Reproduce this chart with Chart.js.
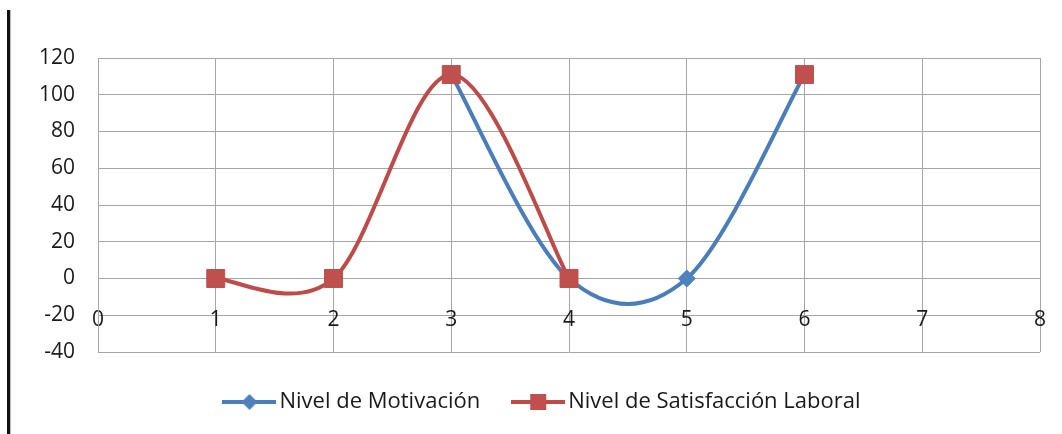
<!DOCTYPE html>
<html>
<head>
<meta charset="utf-8">
<script src="https://cdn.jsdelivr.net/npm/chart.js@4/dist/chart.umd.min.js"></script>
<style>
  html, body { margin: 0; padding: 0; background: #fff; }
  #wrap { position: relative; width: 1062px; height: 434px; }
  #edge { position: absolute; left: 7px; top: 10px; width: 3px; height: 424px; background: #111; box-shadow: 1px 0 0 #bbb; }
</style>
</head>
<body>
<div id="wrap">
  <canvas id="chart"></canvas>
  <div id="edge"></div>
</div>
<script>
// Puntos del eje X y valores de cada serie (null = sin dato)
const xValues = [1, 2, 3, 4, 5, 6];
const motivacion = [null, null, 111, 0, 0, 111];
const satisfaccion = [0, 0, 111, 0, null, 111];
const seriesNames = ['Nivel de Motivación', 'Nivel de Satisfacción Laboral'];
const yTicks = { min: -40, max: 120, step: 20 };
const xTicks = { min: 0, max: 8, step: 1 };

const BLUE_LINE = '#4a7ebb', BLUE_MARK = '#4f81bd';
const RED_LINE = '#be4b48', RED_MARK = '#c0504d';
const GRID = '#a6a6a6';
const FONT = { family: '"Open Sans", sans-serif', size: 21 };
const LEGEND_FONT = { family: '"Open Sans", sans-serif', size: 22 };

function toPoints(values) {
  return xValues.map((x, i) => ({ x, y: values[i] }));
}

// Legend sample: a short line with the series marker in the middle
function legendSample(lineColor, markColor, shape) {
  const c = document.createElement('canvas');
  c.width = 54; c.height = 22;
  const g = c.getContext('2d');
  g.strokeStyle = lineColor; g.lineWidth = 4;
  g.beginPath(); g.moveTo(0, 11); g.lineTo(54, 11); g.stroke();
  g.fillStyle = markColor;
  if (shape === 'diamond') {
    g.beginPath(); g.moveTo(27 - 8, 11); g.lineTo(27, 3); g.lineTo(27 + 8, 11); g.lineTo(27, 19); g.closePath(); g.fill();
  } else {
    g.fillRect(27 - 8, 3, 16, 16);
  }
  return c;
}
const samples = [legendSample(BLUE_LINE, BLUE_MARK, 'diamond'), legendSample(RED_LINE, RED_MARK, 'square')];

// Smoothed line in the style of a spreadsheet "smoothed line":
// Catmull-Rom tangents, control points at 1/6 of the neighbour span.
const smoothLine = {
  id: 'smoothLine',
  afterLayout(chart) {
    // let the value labels use the margin left of the axis box
    chart.scales.y.left = 0;
  },
  beforeDatasetsDraw(chart) {
    chart.getSortedVisibleDatasetMetas().forEach(meta => {
      const pts = meta.data;
      for (let i = 0; i < pts.length; i++) {
        const p = pts[i];
        if (p.skip) continue;
        const prev = (i > 0 && !pts[i - 1].skip) ? pts[i - 1] : p;
        const next = (i < pts.length - 1 && !pts[i + 1].skip) ? pts[i + 1] : p;
        const dx = (next.x - prev.x) / 6, dy = (next.y - prev.y) / 6;
        p.cp1x = p.x - dx; p.cp1y = p.y - dy;
        p.cp2x = p.x + dx; p.cp2y = p.y + dy;
      }
      meta.dataset._pointsUpdated = true;
      meta.dataset._path = undefined;
    });
  }
};

new Chart(document.getElementById('chart'), {
  type: 'line',
  data: {
    datasets: [
      {
        label: seriesNames[0],
        data: toPoints(motivacion),
        borderColor: BLUE_LINE, borderWidth: 4,
        pointStyle: 'rectRot', pointRadius: 8.5,
        pointBackgroundColor: BLUE_MARK, pointBorderColor: BLUE_MARK, pointBorderWidth: 1,
        tension: 0.4, spanGaps: false, order: 1
      },
      {
        label: seriesNames[1],
        data: toPoints(satisfaccion),
        borderColor: RED_LINE, borderWidth: 4,
        pointStyle: 'rect', pointRadius: 12.7,
        pointBackgroundColor: RED_MARK, pointBorderColor: RED_MARK, pointBorderWidth: 1,
        tension: 0.4, spanGaps: false, order: 0
      }
    ]
  },
  options: {
    responsive: true,
    maintainAspectRatio: false,
    animation: false,
    events: [],
    layout: { padding: { top: 58, left: 51, right: 22, bottom: 11 } },
    scales: {
      x: {
        type: 'linear',
        min: xTicks.min, max: xTicks.max,
        position: { y: -20 },
        ticks: { stepSize: xTicks.step, color: '#1a1a1a', font: FONT, padding: -8 },
        grid: { color: GRID, lineWidth: 1, drawTicks: false },
        border: { color: GRID, width: 1 }
      },
      y: {
        min: yTicks.min, max: yTicks.max,
        ticks: { stepSize: yTicks.step, color: '#1a1a1a', font: FONT, padding: 23 },
        grid: { color: GRID, lineWidth: 1, drawTicks: false },
        border: { color: GRID, width: 1 },
        afterFit(scale) { scale.width = 47; }
      }
    },
    plugins: {
      tooltip: { enabled: false },
      legend: {
        position: 'bottom',
        labels: {
          font: LEGEND_FONT,
          color: '#1a1a1a',
          usePointStyle: true,
          pointStyleWidth: 38,
          padding: 39,
          generateLabels(chart) {
            return chart.data.datasets.map((ds, i) => ({
              text: ds.label,
              pointStyle: samples[i],
              fillStyle: 'transparent',
              strokeStyle: 'transparent',
              lineWidth: 0,
              fontColor: '#1a1a1a',
              hidden: false,
              datasetIndex: i
            }));
          }
        }
      }
    }
  },
  plugins: [smoothLine]
});
</script>
</body>
</html>
